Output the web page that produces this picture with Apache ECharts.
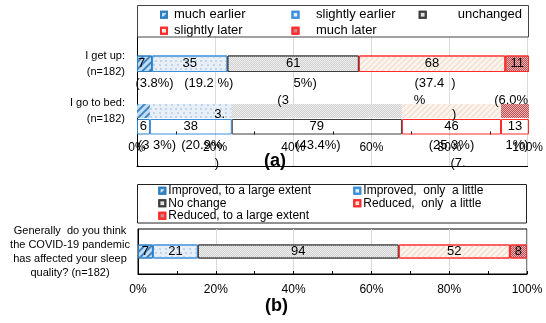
<!DOCTYPE html>
<html><head><meta charset="utf-8">
<script src="https://cdn.jsdelivr.net/npm/echarts@6/dist/echarts.min.js"></script>
<style>html,body{margin:0;padding:0;background:#fff}#c{width:546px;height:323px}</style>
</head><body><div id="c"></div>
<script>
// ---------------- DATA ----------------
const namesA = ['much earlier', 'slightly earlier', 'unchanged', 'slightly later', 'much later'];
const rowLabelsA = ['I get up:\n(n=182)', 'I go to bed:\n(n=182)'];
const getUp = [7, 35, 61, 68, 11];
const goToBed = [6, 38, 79, 46, 13];
const totalA = 182;
// percentage text fragments as they appear (broken) in the reference
const pctRows = [
  ['(3.8%)', '(19.2 %)', '5%)', '(37.4  )', ''],
  ['', '', '(3', '%', '(6.0%'],
  ['', '3.', '', ')', ''],
  ['(3 3%)', '(20.9%', '(43.4%)', '(25.3%)', '1%)'],
  ['.', ')', '', '(7.', '']
];
const pctRowSource = [0, 0, 0, 1, 1]; // 0 = get up, 1 = go to bed
const namesB = ['Improved, to a large extent', 'Improved,  only  a little', 'No change', 'Reduced,  only  a little', 'Reduced, to a large extent'];
const rowLabelB = 'Generally  do you think\nthe COVID-19 pandemic\nhas affected your sleep\nquality? (n=182)';
const sleepQ = [7, 21, 94, 52, 8];
const totalB = 182;
const tickLabels = ['0%', '20%', '40%', '60%', '80%', '100%'];

// ---------------- STYLE ----------------
const FONT = 'Liberation Sans';
const segStyles = [
  {color: '#C4DDF0', border: '#2E7FC2', decal: {symbol: 'rect', symbolSize: 1, dashArrayX: [1, 0], dashArrayY: [1.3, 2.7], rotation: -Math.PI / 4, color: '#3F86C6'}},
  {color: '#E8EFF7', border: '#3B8EDB', decal: {symbol: 'circle', symbolSize: 1, dashArrayX: [[2, 3], [0, 2.5, 2, 0.5]], dashArrayY: [2, 1.5], color: '#B3CDE7'}},
  {color: '#EDEDED', border: '#3C3C3C', decal: {symbol: 'rect', symbolSize: 1, dashArrayX: [[1, 1], [0, 1, 1, 0]], dashArrayY: [1, 0], color: '#D2D2D2'}},
  {color: '#FDF4EE', border: '#FF2B2B', decal: {symbol: 'rect', symbolSize: 1, dashArrayX: [1, 0], dashArrayY: [1, 3], rotation: -Math.PI / 4, color: '#EED8C8'}},
  {color: '#E8B0B1', border: '#FF2B2B', decal: {symbol: 'rect', symbolSize: 1, dashArrayX: [[1, 1], [0, 1, 1, 0]], dashArrayY: [1, 0], color: '#BE5256'}}
];
const countOffsetsA = [-3, 0, 0, 0, 0];
const fragOffsets = [
  [10, 19, 12, 3, 0],
  [0, 0, -10, -12.6, -6],
  [0, 30, 0, 22, 0],
  [13.5, 11, 1, 0, 2],
  [-5.5, 26, 0, 6.5, 0]
];
const fragRowY = [83, 100, 114, 145, 163];
const legendAPos = [
  {left: 160, top: 14.7, pad: 2}, {left: 291.5, top: 14.7, pad: 12.5}, {left: 418.7, top: 14.7, pad: 27},
  {left: 160, top: 30.7, pad: 2}, {left: 291.5, top: 30.7, pad: 12.5}
];
const legendBPos = [
  {left: 158.3, top: 190.7}, {left: 353.3, top: 190.7}, {left: 158.3, top: 203.3},
  {left: 353.3, top: 203.3}, {left: 158.3, top: 215.7}
];
const A_L = 137, A_R = 546 - 529, B_L = 138, B_R = 546 - 527;

// ---------------- BUILD ----------------
const toPct = (v, t) => v / t * 100;
const grids = [], xAxes = [], yAxes = [], series = [];
const hiddenX = g => ({gridIndex: g, type: 'value', min: 0, max: 100, show: false});
const hiddenY = g => ({gridIndex: g, type: 'category', data: [''], show: false});

// grid 0: frame of panel (a)
grids.push({left: A_L, right: A_R, top: 37, height: 129});
xAxes.push({gridIndex: 0, type: 'value', min: 0, max: 100, interval: 20,
  axisLine: {show: true, onZero: false, lineStyle: {color: '#000'}}, axisTick: {show: false},
  splitLine: {show: true, lineStyle: {color: '#D9D9D9'}},
  axisLabel: {inside: true, margin: 18, verticalAlign: 'middle', fontSize: 12, color: '#000', fontFamily: FONT,
    formatter: v => tickLabels[Math.round(v / 20)]}});
yAxes.push({gridIndex: 0, type: 'category', data: [''], axisLine: {show: true, lineStyle: {color: '#000'}},
  axisTick: {show: false}, axisLabel: {show: false}, splitLine: {show: false}});

// grid 1: get-up bar
grids.push({left: A_L, right: A_R, top: 55.5, height: 16.5});
xAxes.push(hiddenX(1));
yAxes.push({gridIndex: 1, type: 'category', data: [rowLabelsA[0]], axisLine: {show: false}, axisTick: {show: false},
  axisLabel: {fontSize: 11, lineHeight: 16, align: 'right', margin: 12, padding: [12, 0, 0, 0], color: '#000', fontFamily: FONT}});
// grid 2: go-to-bed fill
grids.push({left: A_L, right: A_R, top: 104, height: 14});
xAxes.push(hiddenX(2));
yAxes.push({gridIndex: 2, type: 'category', data: [rowLabelsA[1]], axisLine: {show: false}, axisTick: {show: false},
  axisLabel: {fontSize: 11, lineHeight: 16, align: 'right', margin: 12, padding: [14, 0, 0, 0], color: '#000', fontFamily: FONT}});
// grid 3: go-to-bed outline
grids.push({left: A_L, right: A_R, top: 119, height: 15.5});
xAxes.push({gridIndex: 3, type: 'value', min: 0, max: 100, interval: 20, axisLine: {show: false},
  axisTick: {show: false, inside: true}, minorTick: {show: true, splitNumber: 2, length: 3, lineStyle: {color: '#000'}},
  axisLabel: {show: false}, splitLine: {show: false}});
yAxes.push(hiddenY(3));
// grids 4..8: percentage text rows
fragRowY.forEach((y, r) => {
  grids.push({left: A_L, right: A_R, top: y - 6, height: 12});
  xAxes.push(hiddenX(4 + r));
  yAxes.push(hiddenY(4 + r));
});
// grid 9: panel (b)
grids.push({left: B_L, right: B_R, top: 229, height: 45, show: true, borderColor: '#000', borderWidth: 1});
xAxes.push({gridIndex: 9, type: 'value', min: 0, max: 100, interval: 20,
  axisLine: {show: true, lineStyle: {color: '#000'}}, axisTick: {show: true, inside: true, length: 3, lineStyle: {color: '#000'}},
  minorTick: {show: true, splitNumber: 2, length: 3, lineStyle: {color: '#000'}},
  splitLine: {show: true, lineStyle: {color: '#D9D9D9'}},
  axisLabel: {margin: 10, fontSize: 12, color: '#000', fontFamily: FONT, formatter: v => tickLabels[Math.round(v / 20)]}});
yAxes.push({gridIndex: 9, type: 'category', data: [rowLabelB], axisLine: {show: true, lineStyle: {color: '#000'}},
  axisTick: {show: false}, axisLabel: {fontSize: 11, lineHeight: 14, align: 'center', margin: 68, color: '#000', fontFamily: FONT}});

const countLabel = (n, dx) => ({show: true, position: 'inside', formatter: () => String(n), fontSize: 13, color: '#000',
  fontFamily: FONT, textBorderWidth: 0, offset: [dx || 0, 0]});

namesA.forEach((name, i) => {
  const s = segStyles[i];
  series.push({name, type: 'bar', xAxisIndex: 1, yAxisIndex: 1, stack: 'gu', barWidth: '100%',
    data: [toPct(getUp[i], totalA)],
    itemStyle: {color: s.color, borderColor: s.border, borderWidth: 1, decal: s.decal},
    label: countLabel(getUp[i], countOffsetsA[i])});
});
namesA.forEach((name, i) => {
  const s = segStyles[i];
  series.push({name, type: 'bar', xAxisIndex: 2, yAxisIndex: 2, stack: 'bf', barWidth: '100%',
    data: [toPct(goToBed[i], totalA)],
    itemStyle: {color: s.color, borderWidth: 0, decal: s.decal}});
});
namesA.forEach((name, i) => {
  const s = segStyles[i];
  series.push({name, type: 'bar', xAxisIndex: 3, yAxisIndex: 3, stack: 'bo', barWidth: '100%',
    data: [toPct(goToBed[i], totalA)],
    itemStyle: {color: 'rgba(0,0,0,0)', borderColor: s.border, borderWidth: 1},
    label: countLabel(goToBed[i], 0)});
});
pctRows.forEach((row, r) => {
  const src = pctRowSource[r] === 0 ? getUp : goToBed;
  row.forEach((txt, i) => {
    series.push({name: 'frag' + r + '_' + i, type: 'bar', xAxisIndex: 4 + r, yAxisIndex: 4 + r, stack: 'fr' + r,
      barWidth: '100%', silent: true, data: [toPct(src[i], totalA)],
      itemStyle: {color: 'rgba(0,0,0,0)'},
      label: {show: txt !== '', position: 'inside', formatter: () => txt, offset: [fragOffsets[r][i], 0],
        fontSize: 13, color: '#000', fontFamily: FONT, textBorderWidth: 0}});
  });
});
namesB.forEach((name, i) => {
  const s = segStyles[i];
  series.push({name, type: 'bar', xAxisIndex: 9, yAxisIndex: 9, stack: 'b', barWidth: 14,
    data: [toPct(sleepQ[i], totalB)],
    itemStyle: {color: s.color, borderColor: s.border, borderWidth: 1, decal: s.decal},
    label: countLabel(sleepQ[i], 0)});
});

const legends = [];
namesA.forEach((name, i) => {
  const p = legendAPos[i];
  legends.push({data: [name], left: p.left, top: p.top - 7, padding: 0, itemWidth: 6, itemHeight: 6, icon: 'rect',
    selectedMode: false, textStyle: {fontSize: 13, lineHeight: 14, color: '#000', fontFamily: FONT, padding: [0, 0, 0, p.pad]}});
});
namesB.forEach((name, i) => {
  const p = legendBPos[i];
  legends.push({data: [name], left: p.left, top: p.top - 6.5, padding: 0, itemWidth: 6, itemHeight: 6, icon: 'rect',
    selectedMode: false, textStyle: {fontSize: 12, lineHeight: 13, color: '#000', fontFamily: FONT, padding: [0, 0, 0, -2]}});
});

const chart = echarts.init(document.getElementById('c'), null, {renderer: 'canvas'});
chart.setOption({
  animation: false,
  backgroundColor: '#fff',
  textStyle: {fontFamily: FONT},
  title: [
    {text: '(a)', left: 264, top: 152, padding: 0, textStyle: {fontSize: 18, fontWeight: 'bold', color: '#000', fontFamily: FONT}},
    {text: '(b)', left: 265, top: 297, padding: 0, textStyle: {fontSize: 18, fontWeight: 'bold', color: '#000', fontFamily: FONT}}
  ],
  legend: legends,
  grid: grids,
  xAxis: xAxes,
  yAxis: yAxes,
  series: series,
  graphic: [
    {type: 'rect', shape: {x: 137.5, y: 5.5, width: 391, height: 31.5}, style: {fill: 'none', stroke: '#444', lineWidth: 1}, z: 100},
    {type: 'rect', shape: {x: 137.5, y: 184.5, width: 389, height: 38.5}, style: {fill: 'none', stroke: '#222', lineWidth: 1}, z: 100}
  ]
});
</script>
</body></html>
